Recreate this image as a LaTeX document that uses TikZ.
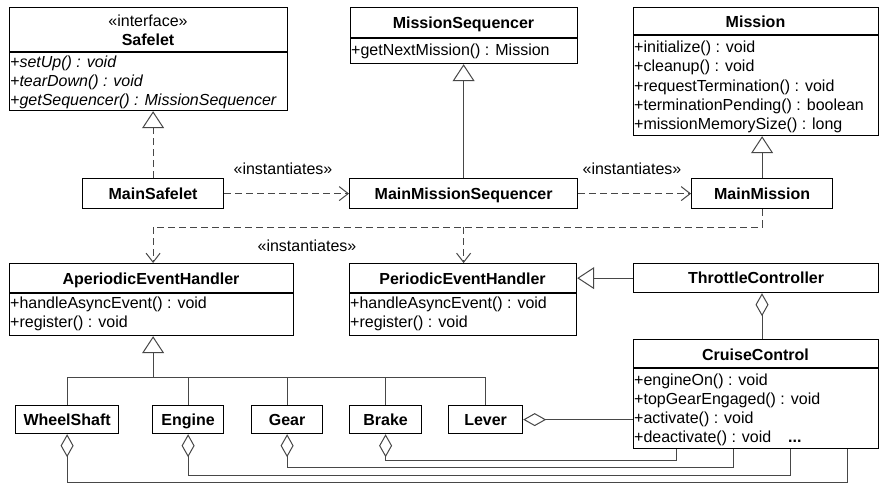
\documentclass[tikz,border=0pt]{standalone}
\usepackage{fontspec}
\setmainfont{Liberation Sans}
\usetikzlibrary{arrows.meta}
\begin{document}
\begin{tikzpicture}[x=1pt,y=-1pt,
  every node/.style={font=\fontsize{16}{19}\selectfont, inner sep=0pt},
  cls/.style={draw, line width=1.2pt, anchor=north west, inner sep=0pt},
  ttl/.style={font=\fontsize{16}{19}\selectfont\bfseries, text height=11.5pt, text depth=0pt},
  mth/.style={anchor=west, text height=12pt, text depth=4pt, yshift=-1.5pt},
  mthi/.style={mth, font=\fontsize{16}{19}\selectfont\itshape},
  divl/.style={line width=1.2pt},
  conn/.style={draw=black!72, line width=1pt},
  gen/.style={conn, -{Triangle[open, length=17pt, width=22pt]}},
  gend/.style={gen, dash pattern=on 7pt off 4pt},
  dep/.style={conn, dash pattern=on 7pt off 4pt, -{Straight Barb[length=9pt, width=14pt]}},
  agg/.style={conn, {Diamond[open, length=23pt, width=13pt]}-},
]
\useasboundingbox (0,0) rectangle (880,485);
\fill[white] (0,0) rectangle (880,485);

% ---------- top row ----------
\node[cls, minimum width=278pt, minimum height=103pt] (safelet) at (9,7) {};
\draw[divl] (9,52) -- (287,52);
\node[text height=11.5pt, text depth=0pt] (safst) at (148,21) {«interface»};
\node[ttl] (safn) at (148,39.5) {Safelet};
\node[mthi] (sm1) at (10,62) {+setUp() : void};
\node[mthi] (sm2) at (10,81) {+tearDown() : void};
\node[mthi] (sm3) at (10,100) {+getSequencer() : MissionSequencer};

\node[cls, minimum width=227pt, minimum height=56pt] (mseq) at (350,7) {};
\draw[divl] (350,38) -- (577,38);
\node[ttl] (mseqn) at (463.5,22.5) {MissionSequencer};
\node[mth] (mseqm1) at (351,50) {+getNextMission() : Mission};

\node[cls, minimum width=245pt, minimum height=128pt] (mission) at (633,7) {};
\draw[divl] (633,35) -- (878,35);
\node[ttl] (missionn) at (755.5,21.5) {Mission};
\node[mth] (mim1) at (634,47) {+initialize() : void};
\node[mth] (mim2) at (634,66) {+cleanup() : void};
\node[mth] (mim3) at (634,86) {+requestTermination() : void};
\node[mth] (mim4) at (634,105) {+terminationPending() : boolean};
\node[mth] (mim5) at (634,124) {+missionMemorySize() : long};

% ---------- second row ----------
\node[cls, ttl, minimum width=141pt, minimum height=30pt] (msafe) at (82,178) {MainSafelet};
\node[cls, ttl, minimum width=228pt, minimum height=30pt] (mmseq) at (349,178) {MainMissionSequencer};
\node[cls, ttl, minimum width=141pt, minimum height=30pt] (mmis) at (691,178) {MainMission};

\node (lab1) at (283,169) {«instantiates»};
\node (lab2) at (632,169) {«instantiates»};
\node (lab3) at (307,246) {«instantiates»};

% ---------- third row ----------
\node[cls, minimum width=284pt, minimum height=72pt] (aper) at (9,263) {};
\draw[divl] (9,293) -- (293,293);
\node[ttl] (apern) at (151,278.5) {AperiodicEventHandler};
\node[mth] (aperm1) at (10,303) {+handleAsyncEvent() : void};
\node[mth] (aperm2) at (10,322) {+register() : void};

\node[cls, minimum width=227pt, minimum height=72pt] (per) at (349,263) {};
\draw[divl] (349,293) -- (576,293);
\node[ttl] (pern) at (462.5,278.5) {PeriodicEventHandler};
\node[mth] (perm1) at (350,303) {+handleAsyncEvent() : void};
\node[mth] (perm2) at (350,322) {+register() : void};

\node[cls, ttl, minimum width=245pt, minimum height=29pt] (thr) at (633,263) {ThrottleController};

\node[cls, minimum width=245pt, minimum height=109pt] (cru) at (633,339) {};
\draw[divl] (633,368) -- (878,368);
\node[ttl] (crun) at (755.5,354.5) {CruiseControl};
\node[mth] (crum1) at (634,380) {+engineOn() : void};
\node[mth] (crum2) at (634,399) {+topGearEngaged() : void};
\node[mth] (crum3) at (634,418) {+activate() : void};
\node[mth] (crum4) at (634,437) {+deactivate() : void};
\node[anchor=base west] (crudots) at (788,442) {\textbf{...}};

% ---------- bottom row ----------
\node[cls, ttl, minimum width=103pt, minimum height=28pt] (wheel) at (15,405) {WheelShaft};
\node[cls, ttl, minimum width=71pt, minimum height=28pt] (engine) at (152,405) {Engine};
\node[cls, ttl, minimum width=71pt, minimum height=28pt] (gear) at (251,405) {Gear};
\node[cls, ttl, minimum width=72pt, minimum height=28pt] (brake) at (349,405) {Brake};
\node[cls, ttl, minimum width=74pt, minimum height=28pt] (lever) at (448,405) {Lever};

% ---------- connectors ----------
\draw[gend] (msafe.north) -- (msafe.north |- safelet.south);
\draw[gen] (mmseq.north) -- (mmseq.north |- mseq.south);
\draw[gen] (mmis.north) -- (mmis.north |- mission.south);

\draw[dep] (msafe.east) -- (mmseq.west);
\draw[dep] (mmseq.east) -- (mmis.west);

\coordinate (j) at (0,227);
\draw[dep] (mmis.south) |- (j -| msafe.south) -- (aper.north -| msafe.south);
\draw[dep] (j -| mmseq.south) -- (per.north -| mmseq.south);

\draw[gen] (thr.west) -- (thr.west -| per.east);
\coordinate (cx) at (762,0);
\draw[agg] (thr.south -| cx) -- (cru.north -| cx);

\coordinate (h) at (0,377);
\draw[gen] (h -| msafe.south) -- (aper.south -| msafe.south);
\draw[conn] (wheel.north) |- (h -| lever.north) -- (lever.north);
\draw[conn] (engine.north) -- (engine.north |- h);
\draw[conn] (gear.north) -- (gear.north |- h);
\draw[conn] (brake.north) -- (brake.north |- h);

\draw[agg] (lever.east) -- (lever.east -| cru.west);

\coordinate (w1) at (847,482);
\coordinate (e1) at (790,475);
\coordinate (g1) at (733,467);
\coordinate (b1) at (676,460);
\draw[agg] (wheel.south) |- (w1) -- (w1 |- cru.south);
\draw[agg] (engine.south) |- (e1) -- (e1 |- cru.south);
\draw[agg] (gear.south) |- (g1) -- (g1 |- cru.south);
\draw[agg] (brake.south) |- (b1) -- (b1 |- cru.south);
\end{tikzpicture}
\end{document}
